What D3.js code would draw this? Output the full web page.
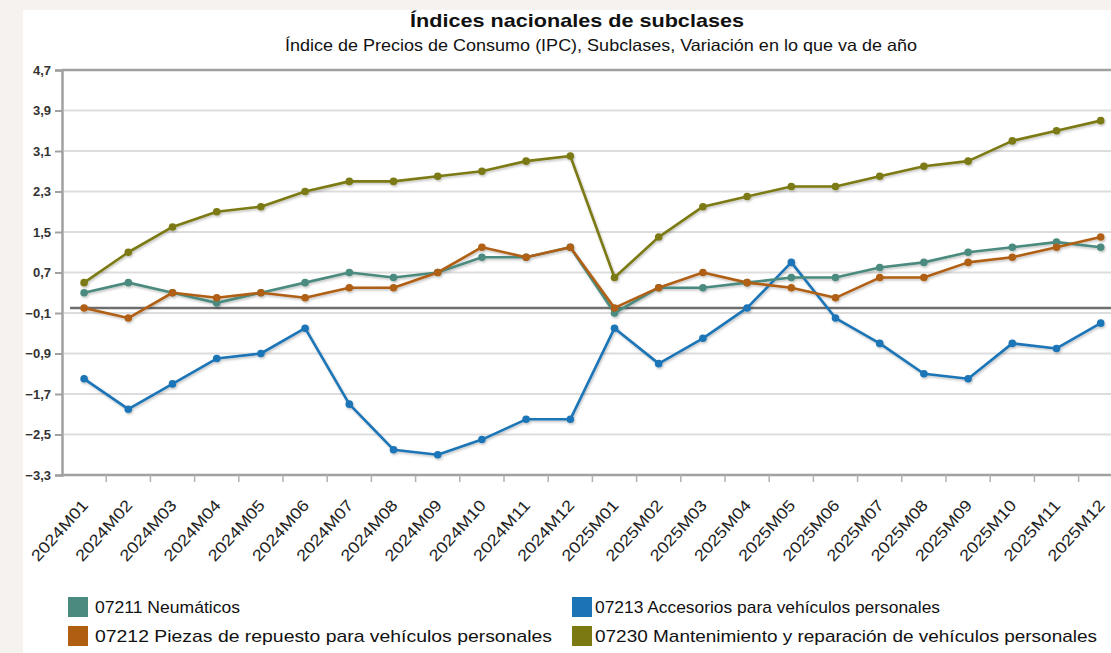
<!DOCTYPE html>
<html><head><meta charset="utf-8">
<script src="https://cdn.jsdelivr.net/npm/d3@7"></script>
<style>
html,body{margin:0;padding:0;background:#f5f2ef;}
svg{display:block;font-family:"Liberation Sans",Arial,sans-serif;}
</style></head>
<body><svg id="c" width="1111" height="653"></svg>
<script>
const months = ["2024M01","2024M02","2024M03","2024M04","2024M05","2024M06","2024M07","2024M08","2024M09","2024M10","2024M11","2024M12",
"2025M01","2025M02","2025M03","2025M04","2025M05","2025M06","2025M07","2025M08","2025M09","2025M10","2025M11","2025M12"];
const neumaticos = [0.3,0.5,0.3,0.1,0.3,0.5,0.7,0.6,0.7,1.0,1.0,1.2,-0.1,0.4,0.4,0.5,0.6,0.6,0.8,0.9,1.1,1.2,1.3,1.2];
const piezas     = [0.0,-0.2,0.3,0.2,0.3,0.2,0.4,0.4,0.7,1.2,1.0,1.2,0.0,0.4,0.7,0.5,0.4,0.2,0.6,0.6,0.9,1.0,1.2,1.4];
const accesorios = [-1.4,-2.0,-1.5,-1.0,-0.9,-0.4,-1.9,-2.8,-2.9,-2.6,-2.2,-2.2,-0.4,-1.1,-0.6,0.0,0.9,-0.2,-0.7,-1.3,-1.4,-0.7,-0.8,-0.3];
const mantenimiento = [0.5,1.1,1.6,1.9,2.0,2.3,2.5,2.5,2.6,2.7,2.9,3.0,0.6,1.4,2.0,2.2,2.4,2.4,2.6,2.8,2.9,3.3,3.5,3.7];
const yTicks = [4.7,3.9,3.1,2.3,1.5,0.7,-0.1,-0.9,-1.7,-2.5,-3.3];
const seriesNames = ["07211 Neumáticos","07212 Piezas de repuesto para vehículos personales","07213 Accesorios para vehículos personales","07230 Mantenimiento y reparación de vehículos personales"];
const seriesColors = ["#4b8b7f","#b05f12","#1b74b6","#7b7a12"];
const seriesValues = [neumaticos,piezas,accesorios,mantenimiento];
const title = "Índices nacionales de subclases";
const subtitle = "Índice de Precios de Consumo (IPC), Subclases, Variación en lo que va de año";

const svg = d3.select("#c");
svg.append("rect").attr("x",23).attr("y",10).attr("width",1111-23).attr("height",653-10).attr("fill","#ffffff");

const pLeft=62, pTop=70, pBottom=475, bw=44.2;
const x = d3.scaleBand().domain(months).range([pLeft, pLeft+months.length*bw]).paddingInner(0).paddingOuter(0);
const y = d3.scaleLinear().domain([-3.3,4.7]).range([pBottom, pTop]);
const cx = m => x(m)+x.bandwidth()/2;

const defs = svg.append("defs");
const f = defs.append("filter").attr("id","sh").attr("x","-5%").attr("y","-5%").attr("width","110%").attr("height","120%");
f.append("feDropShadow").attr("dx",1).attr("dy",1.5).attr("stdDeviation",1.2).attr("flood-color","#000").attr("flood-opacity",0.25);

svg.append("text").attr("x",577).attr("y",27).attr("text-anchor","middle").attr("font-size",19).attr("font-weight","bold")
  .attr("fill","#111").attr("textLength",334).attr("lengthAdjust","spacingAndGlyphs").text(title);
svg.append("text").attr("x",601).attr("y",51).attr("text-anchor","middle").attr("font-size",16.5)
  .attr("fill","#111").attr("textLength",632).attr("lengthAdjust","spacingAndGlyphs").text(subtitle);

const g = svg.append("g");
g.selectAll("line.grid").data(yTicks.slice(1,-1)).join("line").attr("class","grid")
  .attr("x1",pLeft+2).attr("x2",1111).attr("y1",d=>y(d)).attr("y2",d=>y(d))
  .attr("stroke","#dddddd").attr("stroke-width",2);
g.append("line").attr("x1",pLeft).attr("x2",1111).attr("y1",y(4.7)).attr("y2",y(4.7)).attr("stroke","#a0a0a0").attr("stroke-width",2.5);

const yAxis = d3.axisLeft(y).tickValues(yTicks).tickSize(7).tickPadding(4)
  .tickFormat(d=>d3.format(".1f")(d).replace(".",","));
const ya = svg.append("g").attr("transform",`translate(${pLeft},0)`).call(yAxis);
ya.select(".domain").attr("stroke","#a0a0a0").attr("stroke-width",2.5);
ya.selectAll(".tick line").attr("stroke","#a0a0a0").attr("stroke-width",2);
ya.selectAll(".tick text").attr("font-size",13).attr("font-weight","bold").attr("fill","#333")
  .attr("font-family","'Liberation Sans',Arial,sans-serif");

const xa = svg.append("g").attr("transform",`translate(0,${pBottom})`);
xa.append("line").attr("x1",pLeft).attr("x2",1111).attr("y1",0).attr("y2",0).attr("stroke","#a0a0a0").attr("stroke-width",2.5);
xa.selectAll("line.xt").data(months.slice(1)).join("line").attr("class","xt")
  .attr("x1",d=>x(d)).attr("x2",d=>x(d)).attr("y1",0).attr("y2",7).attr("stroke","#b0b0b0").attr("stroke-width",1.5);
xa.selectAll("text").data(months).join("text")
  .attr("transform",d=>`translate(${cx(d)+5},${31}) rotate(-48)`)
  .attr("text-anchor","end").attr("font-size",16).attr("fill","#222")
  .attr("textLength",76).attr("lengthAdjust","spacingAndGlyphs").text(d=>d);

svg.append("line").attr("x1",pLeft+8).attr("x2",1111).attr("y1",y(0)).attr("y2",y(0)).attr("stroke","#6e6e6e").attr("stroke-width",2.5);

const line = d3.line().x((d,i)=>cx(months[i])).y(d=>y(d));
const sg = svg.append("g").attr("filter","url(#sh)");
const order = [2,0,1,3];
order.forEach(k=>{
  const vals = seriesValues[k];
  sg.append("path").datum(vals).attr("d",line).attr("fill","none").attr("stroke",seriesColors[k]).attr("stroke-width",2.6).attr("stroke-linejoin","round");
  sg.selectAll(null).data(vals).join("circle").attr("cx",(d,i)=>cx(months[i])).attr("cy",d=>y(d)).attr("r",3.8).attr("fill",seriesColors[k]);
});

const legPos = [[68,597,95],[68,626,95],[572,597,595],[572,626,595]];
const legLen = [145,457,345,502];
seriesNames.forEach((n,k)=>{
  const p = legPos[k];
  svg.append("rect").attr("x",p[0]).attr("y",p[1]).attr("width",20).attr("height",20).attr("fill",seriesColors[k]);
  svg.append("text").attr("x",p[2]).attr("y",p[1]+16).attr("font-size",17).attr("fill","#111")
    .attr("textLength",legLen[k]).attr("lengthAdjust","spacingAndGlyphs").text(n);
});
</script></body></html>
